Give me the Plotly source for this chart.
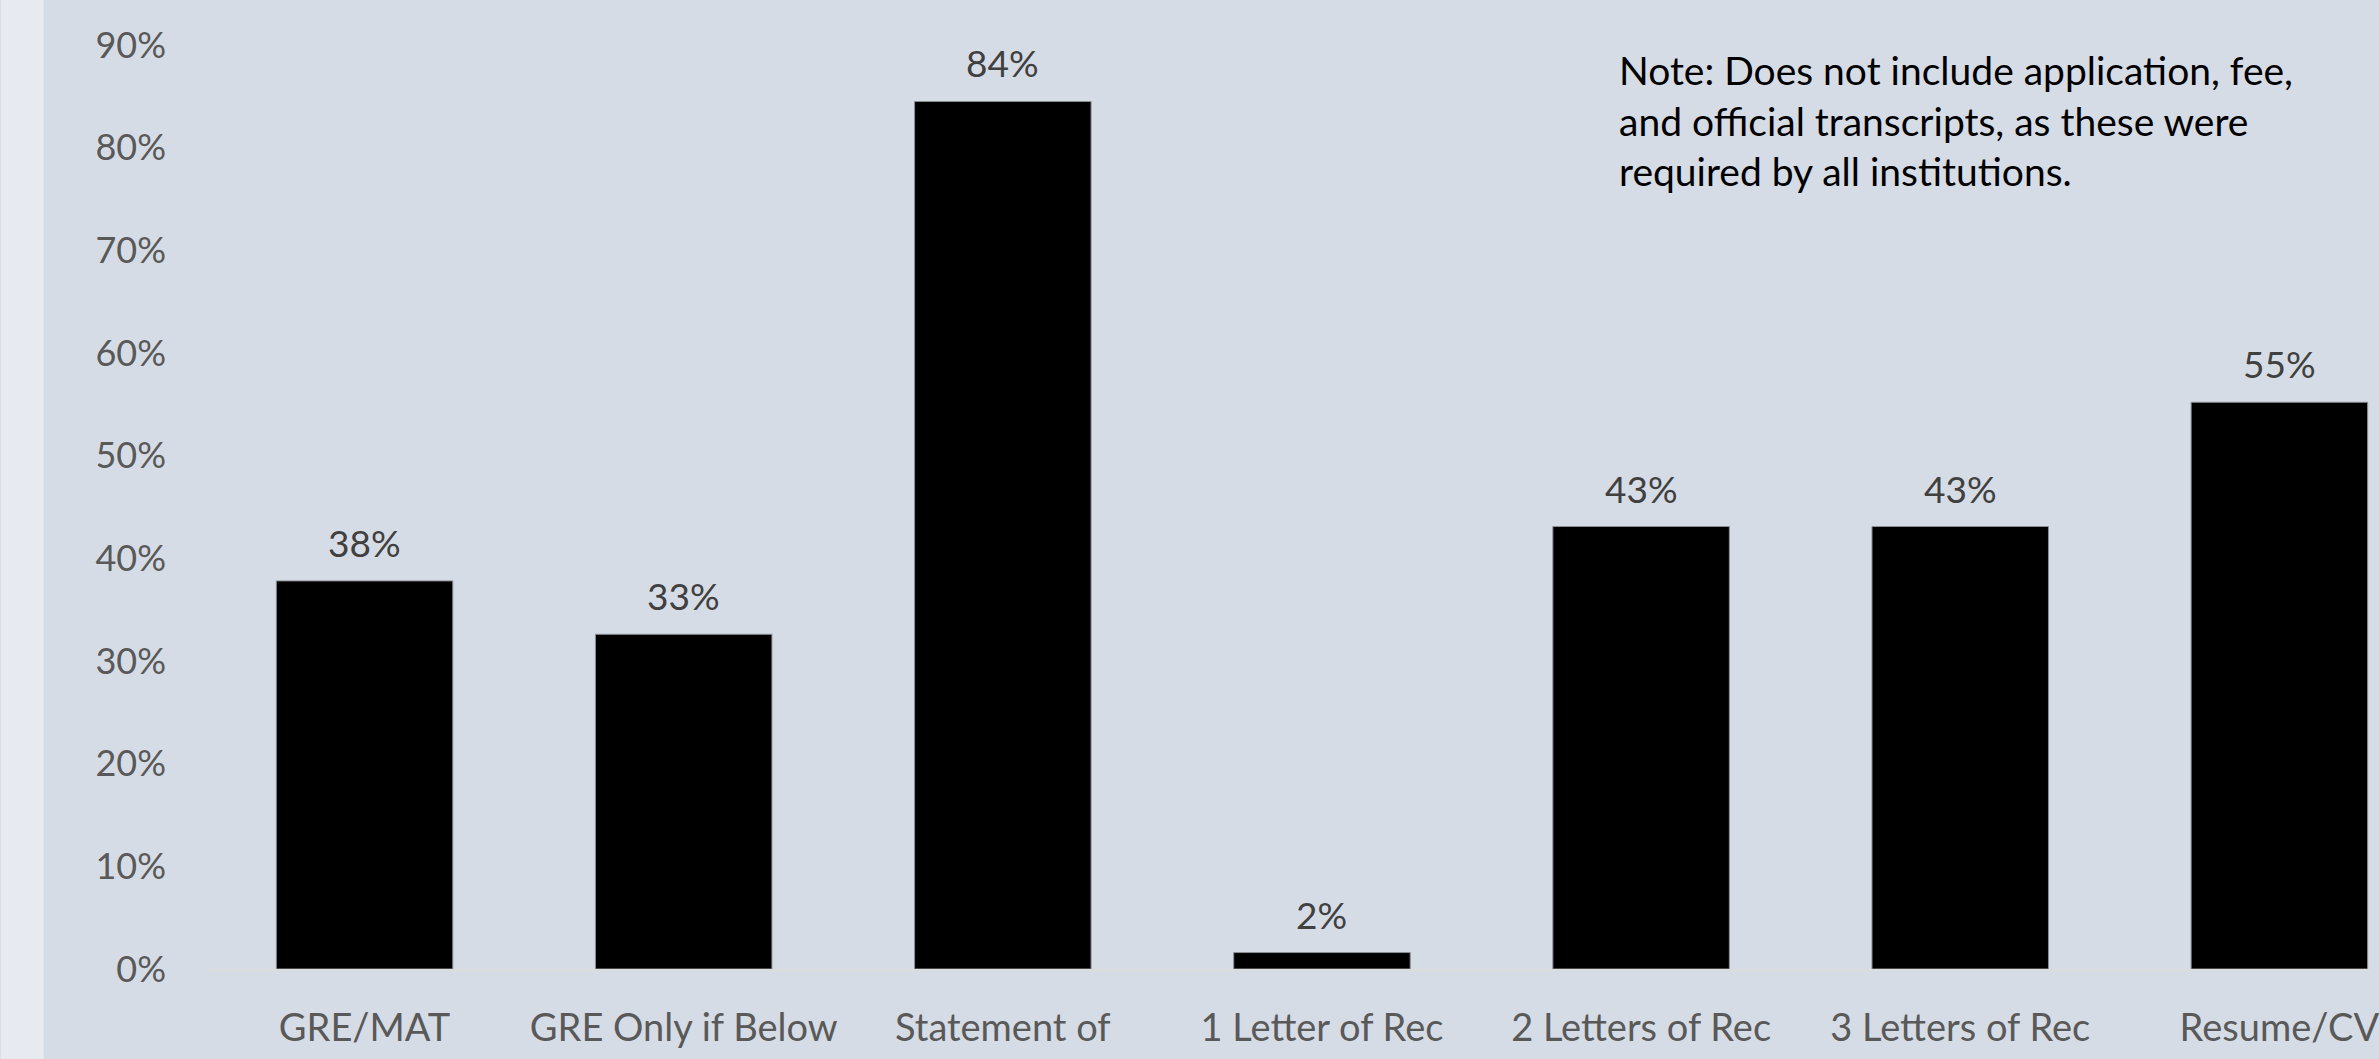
import plotly.graph_objects as go

categories = ["GRE/MAT", "GRE Only if Below", "Statement of", "1 Letter of Rec",
              "2 Letters of Rec", "3 Letters of Rec", "Resume/CV"]
values = [37.8, 32.6, 84.5, 1.6, 43.1, 43.1, 55.2]
value_labels = ["38%", "33%", "84%", "2%", "43%", "43%", "55%"]
y_ticks = [0, 10, 20, 30, 40, 50, 60, 70, 80, 90]
y_tick_labels = [f"{t}%" for t in y_ticks]
note_text = ("Note: Does not include application, fee,<br>"
             "and official transcripts, as these were<br>"
             "required by all institutions.")

FONT = "Lato, 'Open Sans', sans-serif"
BG = "#D6DCE5"
STRIP = "#E7EBF1"

fig = go.Figure()
fig.add_trace(go.Bar(
    x=list(range(len(categories))),
    y=values,
    marker=dict(color="#000000", line=dict(color="#8A8F96", width=1)),
    hoverinfo="skip",
))

for i, (v, lab) in enumerate(zip(values, value_labels)):
    fig.add_annotation(x=i, y=v, text=lab, showarrow=False, yanchor="bottom",
                       yshift=14, font=dict(family=FONT, size=37, color="#404040"))

fig.add_annotation(xref="paper", yref="paper", x=0.652, y=1.0, xanchor="left", yanchor="top",
                   text=note_text, showarrow=False, align="left",
                   font=dict(family=FONT, size=39, color="#000000"))

W, H = 2379, 1059
ML, MR, MT, MB = 205, 0, 45, 90
fig.add_shape(type="rect", xref="paper", yref="paper",
              x0=-ML / (W - ML - MR), x1=-(ML - 43) / (W - ML - MR),
              y0=-MB / (H - MT - MB), y1=1 + MT / (H - MT - MB),
              fillcolor=STRIP, line=dict(width=0), layer="below")

fig.update_layout(
    width=W, height=H,
    margin=dict(l=ML, r=MR, t=MT, b=MB, pad=0),
    paper_bgcolor=BG, plot_bgcolor=BG,
    bargap=0.447,
    showlegend=False,
    xaxis=dict(
        range=[-0.5, 6.284],
        tickmode="array", tickvals=list(range(len(categories))), ticktext=categories,
        tickfont=dict(family=FONT, size=38, color="#595959"),
        showgrid=False, zeroline=False,
        showline=True, linecolor="#DCDCDC", linewidth=2,
        ticks="", ticklabelstandoff=24, ticklabeloverflow="allow",
        fixedrange=True,
    ),
    yaxis=dict(
        range=[0, 90],
        tickmode="array", tickvals=y_ticks, ticktext=y_tick_labels,
        tickfont=dict(family=FONT, size=36, color="#595959"),
        showgrid=False, zeroline=False, showline=False,
        ticks="", ticklabelstandoff=38,
        fixedrange=True,
    ),
)

fig.write_html("out.html", config={"displayModeBar": False},
               post_script="document.body.style.margin='0';")
